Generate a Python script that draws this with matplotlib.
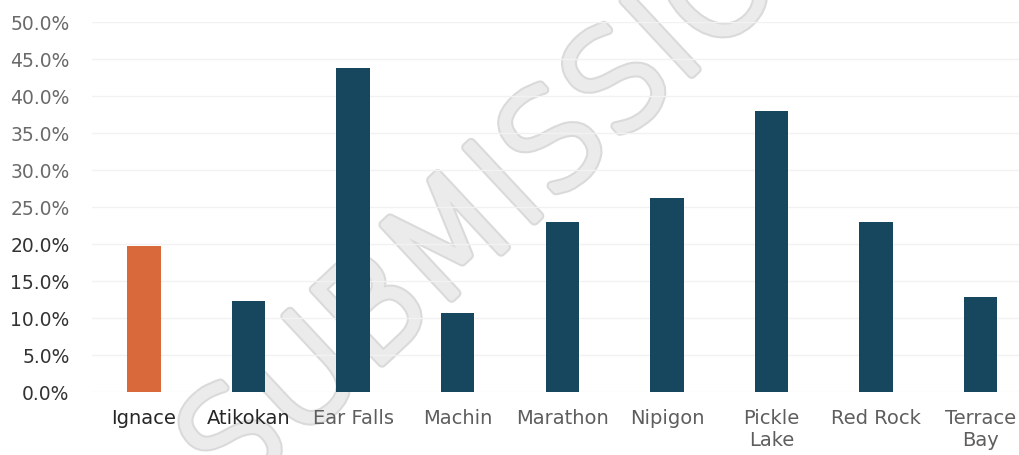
import matplotlib
matplotlib.use("Agg")
import matplotlib.pyplot as plt
import matplotlib.patheffects as pe

# Data
towns = ["Ignace", "Atikokan", "Ear Falls", "Machin", "Marathon", "Nipigon",
         "Pickle\nLake", "Red Rock", "Terrace\nBay"]
share = [19.7, 12.2, 43.7, 10.6, 23.0, 26.2, 38.0, 23.0, 12.8]
y_ticks = [0, 5, 10, 15, 20, 25, 30, 35, 40, 45, 50]

orange = "#D9693A"
teal = "#16475F"
bar_colors = [orange] + [teal] * (len(towns) - 1)

fig = plt.figure(figsize=(10.2, 4.56), dpi=100)
ax = fig.add_axes([0.0899, 0.1388, 1.0 - 0.0899, 0.950 - 0.1388])
ax.set_facecolor("none")

# faint watermark behind everything
wm = fig.text(0.512, 0.602, "SUBMISSION", fontsize=99, rotation=43,
              ha="center", va="center", color="#ebebeb", zorder=-1,
              family="DejaVu Sans", fontweight="light")
wm.set_path_effects([pe.Stroke(linewidth=7, foreground="#dadada"),
                     pe.Stroke(linewidth=4, foreground="#ebebeb"),
                     pe.Normal()])

ax.bar(range(len(towns)), share, width=0.32, color=bar_colors, zorder=3)

ax.set_xlim(-0.5, 8.376)
ax.set_ylim(0, 50)
ax.set_yticks(y_ticks)
ax.set_yticklabels([f"{v:.1f}%" for v in y_ticks])
ax.set_xticks(range(len(towns)))
ax.set_xticklabels(towns, linespacing=1.2)

ax.grid(axis="y", color="#f2f2f2", linewidth=1, zorder=1)
for s in ax.spines.values():
    s.set_visible(False)
ax.tick_params(axis="both", length=0)
ax.tick_params(axis="y", labelsize=13.5, pad=16)
ax.tick_params(axis="x", labelsize=14, pad=12)

for v, lab in zip(y_ticks, ax.get_yticklabels()):
    lab.set_color("#333333" if v <= 20 else "#6a6a6a")
for i, lab in enumerate(ax.get_xticklabels()):
    lab.set_color("#262626" if i < 2 else "#5e5e5e")

fig.savefig("out.png", dpi=100)
